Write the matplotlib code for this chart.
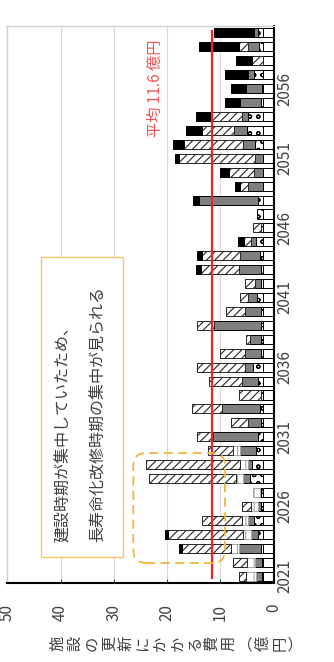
import numpy as np
import matplotlib.pyplot as plt
from matplotlib.patches import FancyBboxPatch, Rectangle

plt.rcParams['font.family'] = ['Noto Sans CJK JP', 'DejaVu Sans']
plt.rcParams['hatch.linewidth'] = 0.8

years = np.arange(2021, 2061)

# 年度別の更新費用（億円）
maint = [2.0] * 40
dots = [0.25, 0.25, 0.4, 1.0, 1.7, 0.3, 0.3, 2.5, 2.0, 1.2,
        0.9, 0.3, 0.6, 0.3, 0.9, 1.9, 0.3, 0.3, 0.3, 0.3,
        1.1, 0.3, 0.4, 0.5, 1.25, 0.3, 1.1, 1.0, 0, 0,
        0, 1.4, 3.0, 2.75, 0.3, 0.25, 1.6, 0, 0.8, 1.0]
gray = [1.05, 1.25, 4.0, 1.15, 1.0, 0.6, 0.3, 1.3, 0.75, 3.1,
        8.5, 2.4, 7.0, 0, 3.0, 1.5, 3.0, 2.1, 8.95, 3.0,
        1.6, 1.1, 4.0, 3.75, 0.95, 0, 0, 10.9, 2.7, 1.75,
        1.5, 2.3, 2.4, 1.1, 3.9, 3.0, 1.1, 0, 2.0, 0.7]
light = [1.9, 1.4, 1.6, 1.55, 1.2, 1.3, 1.3, 1.2, 1.5, 1.3,
         0, 0, 0, 0, 0, 0, 0, 0, 0, 0,
         0, 0, 0, 0, 0, 0, 0, 0, 0, 0,
         0, 0, 0, 0, 0, 0, 0, 0, 0, 0]
hatched = [1.2, 2.8, 9.2, 14.2, 7.6, 1.7, 0, 16.3, 17.75, 4.7,
           3.0, 3.2, 5.8, 4.1, 6.2, 9.0, 4.7, 0.8, 3.05, 3.6,
           1.55, 2.0, 7.2, 7.2, 1.4, 1.6, 0, 0, 1.55, 4.65,
           14.2, 11.1, 6.1, 6.1, 0, 0, 0, 2.0, 1.6, 0]
black = [0, 0, 0.5, 0.5, 0, 0, 0, 0, 0, 0,
         0, 0, 0, 0, 0, 0, 0, 0, 0, 0,
         0, 0, 1.0, 0.9, 1.0, 0, 0, 1.3, 0.95, 1.6,
         0.8, 2.0, 2.9, 2.7, 2.9, 2.65, 4.4, 3.0, 7.5, 7.4]
average = 11.6

year_ticks = [2021, 2026, 2031, 2036, 2041, 2046, 2051, 2056]
value_ticks = [0, 10, 20, 30, 40, 50]
ylabel = '施設の更新にかかる費用︵億円︶'
note1 = '建設時期が集中していたため、'
note2 = '長寿命化改修時期の集中が見られる'

fig = plt.figure(figsize=(3.34, 6.62), dpi=100)
ax = fig.add_axes([7.3 / 334, 79 / 662, 266.2 / 334, 557 / 662])
ax.set_xlim(50, 0)
ax.set_ylim(2020.5, 2060.5)

styles = [
    (maint, dict(facecolor='white', edgecolor='black')),
    (dots, dict(facecolor='white', edgecolor='black', hatch='oo')),
    (gray, dict(facecolor='#7f7f7f', edgecolor='black')),
    (light, dict(facecolor='white', edgecolor='#a6a6a6', hatch='||')),
    (hatched, dict(facecolor='white', edgecolor='#262626', hatch='////')),
    (black, dict(facecolor='black', edgecolor='black')),
]
left = np.zeros(len(years))
for vals, st in styles:
    vals = np.asarray(vals, dtype=float)
    m = vals > 0
    ax.barh(years[m], vals[m], left=left[m], height=0.65, linewidth=0.7, **st)
    left += vals

ax.vlines(average, 2020.8, 2060.2, colors='#e8262b', lw=1.6, zorder=5)

ax.set_axisbelow(True)
ax.xaxis.grid(True, color='#d9d9d9', lw=0.8)
for s in ('top', 'left'):
    ax.spines[s].set_color('#d0d0d0')
    ax.spines[s].set_linewidth(1)
for s in ('right', 'bottom'):
    ax.spines[s].set_color('black')
    ax.spines[s].set_linewidth(1.5)

ax.set_xticks(value_ticks)
ax.tick_params(axis='x', direction='in', length=3, color='#404040', pad=15,
               labelsize=11, labelcolor='#404040', labelrotation=90)
ax.yaxis.tick_right()
ax.set_yticks(year_ticks)
ax.tick_params(axis='y', length=0, pad=2, labelsize=11, labelcolor='#404040')
plt.setp(ax.get_yticklabels(), rotation=90, va='center', ha='left')

# 縦書きの軸ラベル
for i, ch in enumerate(ylabel):
    fig.text((58 + i * 17.1) / 334, 1 - 643 / 662, ch, rotation=90,
             ha='center', va='center', fontsize=11, color='#404040')

fig.text(155 / 334, 1 - 137 / 662, f'平均 {average} 億円', rotation=90,
         rotation_mode='anchor', ha='left', va='center',
         color='#ef5555', fontsize=11)

box = Rectangle((0.41, 1.05), 0.82, 3.0, transform=fig.dpi_scale_trans,
                facecolor='white', edgecolor='#f7c66b', lw=1)
fig.add_artist(box)
fig.text(63.3 / 334, 1 - 542 / 662, note1, rotation=90, rotation_mode='anchor',
         ha='left', va='center', fontsize=11.5, color='#404040')
fig.text(98.3 / 334, 1 - 542 / 662, note2, rotation=90, rotation_mode='anchor',
         ha='left', va='center', fontsize=11.5, color='#404040')

ring = FancyBboxPatch((1.333, 0.99), 0.917, 1.10,
                      boxstyle='round,pad=0,rounding_size=0.13',
                      transform=fig.dpi_scale_trans, fill=False,
                      edgecolor='#f5b53f', lw=1.3, linestyle=(0, (5, 3)))
fig.add_artist(ring)

fig.savefig('out.png', dpi=100)
